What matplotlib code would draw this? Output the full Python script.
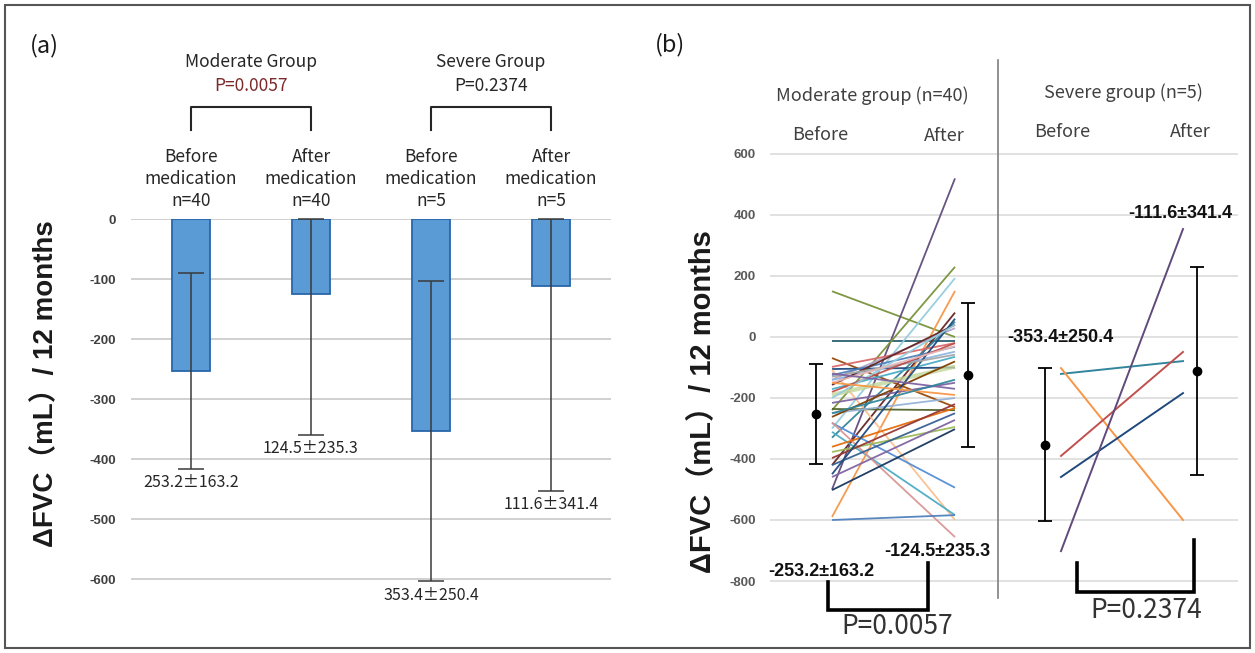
import matplotlib
matplotlib.use("Agg")
import matplotlib.pyplot as plt
from matplotlib.patches import Rectangle

# ---- data ----
bar_labels = ["Before\nmedication\nn=40", "After\nmedication\nn=40",
              "Before\nmedication\nn=5", "After\nmedication\nn=5"]
bar_means = [-253.2, -124.5, -353.4, -111.6]
bar_sds = [163.2, 235.3, 250.4, 341.4]
group_names = ["Moderate Group", "Severe Group"]
group_p = ["P=0.0057", "P=0.2374"]
a_ticks = [0, -100, -200, -300, -400, -500, -600]
b_ticks = [600, 400, 200, 0, -200, -400, -600, -800]

# moderate group, 40 patients (approximate)
mod_before = [150, -13, -500, -240, -300, -590, -420, -330, -140, -69,
              -98, -105, -108, -125, -141, -157, -171, -190, -216, -236,
              -250, -262, -282, -311, -280, -360, -377, -397, -420, -459,
              -502, -600, -450, -130, -180, -200, -150, -120, -150, -250]
mod_after = [0, -13, 520, 230, 193, 151, 80, 50, 29, -230,
             -20, -100, -600, -32, -48, 40, -65, -97, -150, -240,
             -200, -80, -494, -584, -656, -233, -295, -220, -250, -272,
             -302, -584, 60, -58, -20, 40, -30, -170, -190, -140]
mod_colors = ["#77933C", "#215968", "#604A7B", "#77933C", "#93CDDD", "#F79646",
              "#632523", "#31859C", "#B3A2C7", "#984807", "#D9696A", "#1F497D",
              "#FAC090", "#4F81BD", "#8EB4E3", "#632523", "#4BACC6", "#C3D69B",
              "#8064A2", "#4F6228", "#95B3D7", "#7F3F00", "#558ED5", "#4BACC6",
              "#D99694", "#E46C0A", "#9BBB59", "#953735", "#376092", "#8064A2",
              "#17375E", "#4F81BD", "#1F497D", "#A6A6A6", "#C0504D", "#93CDDD",
              "#E6B9B8", "#8064A2", "#F79646", "#31859C"]
mod_widths = [1.3] * 17 + [3.0] + [1.3] * 22

# severe group, 5 patients
sev_before = [-121, -102, -390, -459, -702]
sev_after = [-79, -600, -49, -184, 354]
sev_colors = ["#31859C", "#F79646", "#C0504D", "#1F497D", "#604A7B"]

W, H = 1255, 653
fig = plt.figure(figsize=(W / 100, H / 100), dpi=100)
fig.patch.set_facecolor("white")

def box(x0, y0, x1, y1):
    return [x0 / W, 1 - y1 / H, (x1 - x0) / W, (y1 - y0) / H]

jp = ["Noto Sans CJK JP", "DejaVu Sans"]
boldlab = ["Liberation Sans", "Noto Sans CJK JP"]
ylab = "ΔFVC（mL）/ 12 months"

# overlay in pixel coordinates for frame, brackets and header text
ov = fig.add_axes([0, 0, 1, 1], zorder=5)
ov.set_xlim(0, W)
ov.set_ylim(H, 0)
ov.axis("off")
ov.patch.set_alpha(0)
ov.add_patch(Rectangle((5, 5), W - 10, H - 10, fill=False, ec="#555555", lw=1.5))

# ---- panel (a) ----
ax = fig.add_axes(box(131, 219, 611, 639))
xs = range(len(bar_means))
ax.bar(xs, bar_means, width=0.31, color="#5B9BD5", edgecolor="#2A66AA", lw=1.3, zorder=2)
lower = [s for s in bar_sds]
upper = [min(s, -m) for m, s in zip(bar_means, bar_sds)]
ax.errorbar(xs, bar_means, yerr=[lower, upper], fmt="none", ecolor="#3A3A3A",
            elinewidth=1.1, capsize=9.5, capthick=1.1, zorder=3, clip_on=False)
for x, m, s in zip(xs, bar_means, bar_sds):
    ax.annotate(f"{-m:.1f}±{s:.1f}", (x, m - s), xytext=(0, -14), textcoords="offset pixels",
                ha="center", va="center", fontsize=11.5, family=jp, color="#262626",
                annotation_clip=False)
ax.set_xlim(-0.5, 3.5)
ax.set_ylim(-700, 0)
ax.set_yticks(a_ticks)
ax.set_yticklabels([str(t) for t in a_ticks], fontweight="bold", fontsize=9.5,
                   color="#404040", family="Liberation Sans")
ax.tick_params(axis="y", length=0, pad=11)
ax.set_xticks([])
ax.grid(axis="y", color="#C8C8C8", lw=1.2, zorder=0)
ax.set_axisbelow(True)
for sp in ax.spines.values():
    sp.set_visible(False)

ov.text(46, 384, ylab, rotation=90, ha="center", va="center", fontsize=20,
        fontweight="bold", family=boldlab, color="#1A1A1A")
ov.text(30, 46, "(a)", ha="left", va="center", fontsize=17, family=jp, color="#1A1A1A")
bar_px = [191, 311, 431, 551]
for i, lab in enumerate(bar_labels):
    ov.text(bar_px[i], 179, lab, ha="center", va="center", fontsize=12.5, family=jp,
            color="#262626", linespacing=1.3)
p_cols = ["#7B2A2A", "#262626"]
for g in range(2):
    x0, x1 = bar_px[2 * g], bar_px[2 * g + 1]
    xc = (x0 + x1) / 2
    ov.text(xc, 62, group_names[g], ha="center", va="center", fontsize=12.5,
            family=jp, color="#262626")
    ov.text(xc, 86, group_p[g], ha="center", va="center", fontsize=12.5,
            family=jp, color=p_cols[g])
    ov.plot([x0, x0, x1, x1], [130, 107, 107, 130], color="#262626", lw=1.5)

# ---- panel (b) ----
bx = fig.add_axes(box(770, 144.85, 1238, 590.15))
px_per = 123.0
def ux(p):
    return (p - 832) / px_per

for b, a, c, w in zip(mod_before, mod_after, mod_colors, mod_widths):
    bx.plot([ux(832), ux(955)], [b, a], color=c, lw=w, alpha=0.95 if w < 2 else 0.8,
            solid_capstyle="butt", zorder=2)
for b, a, c in zip(sev_before, sev_after, sev_colors):
    bx.plot([ux(1061), ux(1183)], [b, a], color=c, lw=1.4, zorder=2)

mean_px = [816, 968, 1045, 1197]
bx.errorbar([ux(p) for p in mean_px], bar_means, yerr=bar_sds, fmt="o", color="black",
            ms=6, elinewidth=1.3, capsize=5, capthick=1.3, zorder=3)
bx.set_xlim(ux(770), ux(1238))
bx.set_ylim(-830, 630)
bx.set_yticks(b_ticks)
bx.set_yticklabels([str(t) for t in b_ticks], fontweight="bold", fontsize=9.5,
                   color="#595959", family="Liberation Sans")
bx.tick_params(axis="y", length=0, pad=10)
bx.set_xticks([])
bx.grid(axis="y", color="#DCDCDC", lw=1.2, zorder=0)
bx.set_axisbelow(True)
bx.patch.set_alpha(0)
for sp in bx.spines.values():
    sp.set_visible(False)

ov.plot([998, 998], [60, 598], color="#7F7F7F", lw=1.2)
ov.text(703, 402, ylab, rotation=90, ha="center", va="center", fontsize=21,
        fontweight="bold", family=boldlab, color="#1A1A1A")
ov.text(655, 45, "(b)", ha="left", va="center", fontsize=17, family=jp, color="#1A1A1A")
ov.text(872, 96, "Moderate group (n=40)", ha="center", va="center", fontsize=13,
        family=jp, color="#404040")
ov.text(1123, 93, "Severe group (n=5)", ha="center", va="center", fontsize=13,
        family=jp, color="#404040")
for x, y, t in [(820, 135, "Before"), (944, 136, "After"),
                (1062, 132, "Before"), (1190, 132, "After")]:
    ov.text(x, y, t, ha="center", va="center", fontsize=13, family=jp, color="#404040")

lab_px = [(821, 572), (937, 551), (1060, 338), (1180, 214)]
for (x, y), m, s in zip(lab_px, bar_means, bar_sds):
    ov.text(x, y, f"{m:.1f}±{s:.1f}", ha="center", va="center", fontsize=13,
            fontweight="bold", family=boldlab, color="#111111")

# significance brackets
ov.plot([828, 828, 928, 928], [582, 610, 610, 563], color="black", lw=2.6,
        solid_joinstyle="miter")
ov.plot([1077, 1077, 1194, 1194], [563, 592, 592, 540], color="black", lw=2.6,
        solid_joinstyle="miter")
ov.text(897, 627, group_p[0], ha="center", va="center", fontsize=19, family=jp,
        color="#333333")
ov.text(1146, 610, group_p[1], ha="center", va="center", fontsize=19, family=jp,
        color="#333333")

fig.savefig("out.png", dpi=100, facecolor="white")
